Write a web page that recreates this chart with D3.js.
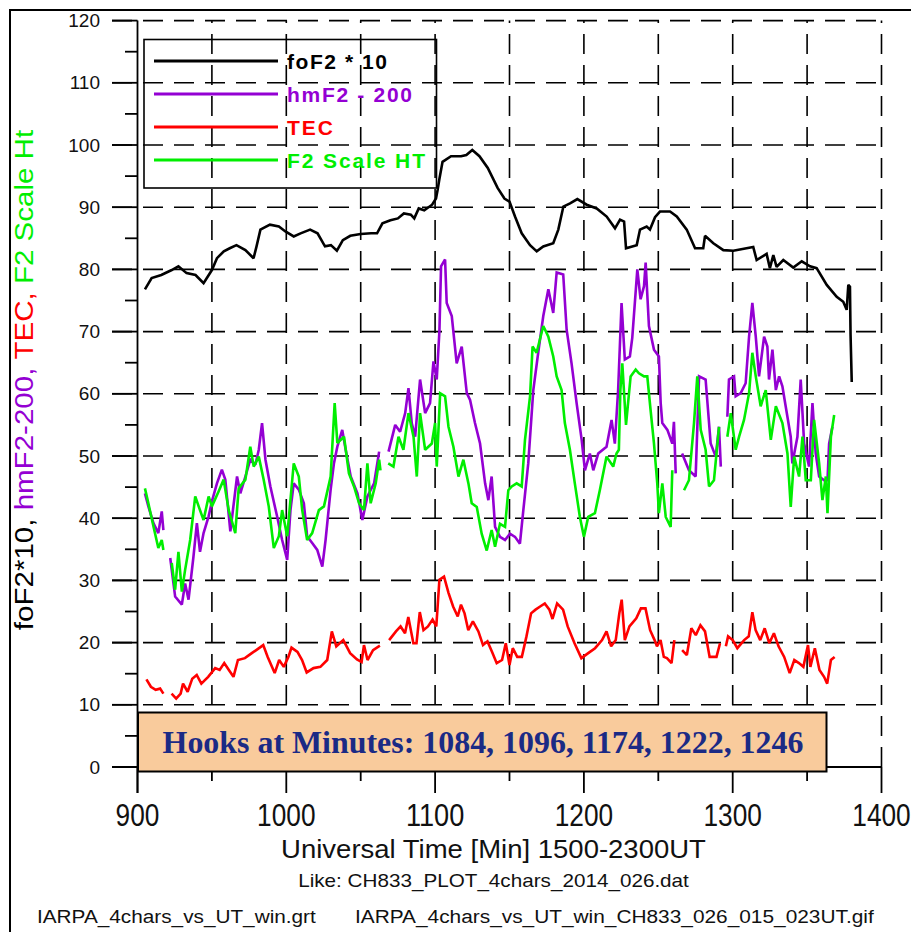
<!DOCTYPE html>
<html>
<head>
<meta charset="utf-8">
<script src="https://cdn.jsdelivr.net/npm/d3@7"></script>
<style>
  html, body { margin: 0; padding: 0; background: #fff; }
  svg { display: block; }
</style>
</head>
<body>
<svg id="chart" width="911" height="932" style="font-family: 'Liberation Sans', Arial, sans-serif;"></svg>
<script>
// ---- data (minutes UT, plotted value); null marks a data gap ----
const foF2Time = [905,909.5,916,923,927.5,933,939,944.4,950,953.4,958,962,966.5,972.5,978,980,982.6,989,995,999.4,1005,1009.6,1016,1021,1026,1030,1034,1038,1043,1050,1057,1061,1064.6,1070,1075,1079,1083.7,1086,1089,1092.7,1098,1100.6,1101.7,1102.8,1105,1110.7,1117.4,1121,1125,1129.8,1135.4,1142,1146.6,1150,1153.7,1158.2,1163.8,1168.3,1172.7,1179.4,1182.8,1186.2,1190.7,1195.6,1201.9,1208.6,1215.3,1220.9,1224.3,1227,1228.3,1235.5,1237.7,1242.2,1244.4,1247.8,1251.1,1257.9,1262.4,1269.1,1274.7,1280.2,1281.4,1287,1293.7,1300.4,1313.8,1316.1,1322.8,1325,1327.3,1329.5,1334,1340.7,1346.4,1352,1356.4,1363.2,1369.9,1374.3,1376.6,1377.7,1378.8,1379.2,1380];
const foF2Values = [76.8,78.6,79.1,79.9,80.5,79.4,79.1,77.8,79.9,81.8,82.9,83.4,83.9,83.1,81.8,83.7,86.4,87.2,86.9,86.1,85.3,85.8,86.4,85.8,83.7,83.9,83.0,84.7,85.4,85.7,85.8,85.8,87.4,87.9,88.2,89.0,88.8,88.2,89.8,89.5,90.4,91.4,92.8,94.4,97.3,98.2,98.2,98.4,99.2,98.2,96.3,93.1,91.4,90.9,88.5,85.8,83.9,82.9,83.7,84.2,86.4,90.1,90.6,91.3,90.4,89.8,88.5,86.6,88.0,87.7,83.4,83.9,86.4,86.9,86.4,88.4,89.3,89.3,88.5,86.4,83.4,83.4,85.4,84.2,83.1,83.0,83.6,81.5,82.5,80.2,82.3,80.4,81.5,80.3,81.3,80.5,80.2,77.5,75.6,74.8,73.5,77.5,77.2,69.5,61.9];

const hmF2Time = [905,907.3,910.7,914,916.3,917.4,919,922,925.3,929.8,932,934.3,937.6,939.9,942,944.4,947.8,950,953.4,956.7,959,962.4,966.9,969.1,972.5,975.8,979.2,981.5,983.7,986,989.3,993.8,997.2,1000.6,1002.8,1005,1008.4,1011.8,1014,1017.4,1020.8,1024.2,1026.4,1029.8,1032,1034.3,1037.6,1039.9,1043.3,1047.8,1051.1,1054.5,1059,1062.4,1065,1068.7,1073.2,1076.5,1079.9,1082.1,1084.3,1086.6,1089.9,1093.3,1096.6,1098.9,1101.1,1102.9,1104,1106.7,1107.8,1111.2,1114.5,1117.9,1121.3,1123.5,1126.8,1130.2,1133.6,1135.8,1138,1140.3,1143.6,1147,1150.3,1153.7,1157,1159.3,1162.6,1166,1169.4,1172.7,1176.1,1179.4,1181.7,1186.1,1188.4,1191.7,1195.1,1198.5,1200.7,1204,1206.3,1209.6,1215.2,1218.6,1220.8,1223,1225.3,1227.5,1230.9,1232.5,1235.9,1238.1,1240.4,1241.5,1243.7,1247.1,1250.4,1251.6,1252.7,1256.1,1259.4,1260.5,1261.7,1263,1266,1270.6,1275.1,1277.4,1281.8,1285.2,1288.6,1290.8,1292,1294,1296.4,1297.5,1300.9,1302,1305.4,1308.7,1311,1313.2,1315.5,1317.7,1321.1,1323.3,1324.4,1326.7,1329,1331.2,1333.4,1335.6,1339,1340.1,1343.5,1345.7,1348,1351.3,1353.6,1355.8,1358.1,1361.4,1363.7,1364.8,1367];
const hmF2Values = [44.0,41.9,39.2,37.6,41.1,38.1,null,33.6,27.4,26.1,29.5,26.9,33.8,39.2,34.6,37.6,40.3,42.7,45.6,47.8,46.2,37.9,46.7,44.0,46.7,49.4,48.6,51.0,55.3,49.4,45.1,40.3,36.5,33.3,41.3,45.6,44.6,42.4,37.1,36.0,34.9,32.2,36.5,44.6,48.8,51.5,54.2,51.0,46.7,44.0,39.7,43.5,45.6,50.7,null,50.7,55.0,53.9,56.9,60.9,55.3,53.1,62.3,56.9,58.5,65.2,62.3,70.1,80.5,81.6,74.6,72.5,64.9,67.6,60.1,59.0,55.3,52.0,45.6,42.9,46.7,38.6,37.0,36.5,37.5,37.0,35.9,41.3,48.8,60.6,66.8,72.5,76.8,73.0,79.5,79.2,70.3,64.9,58.5,52.6,47.7,50.4,47.7,50.4,51.5,55.8,52.0,60.6,74.6,65.5,66.0,69.0,80.0,75.2,77.3,81.1,70.9,67.1,66.0,58.5,55.3,54.2,52.0,55.5,47.2,null,50.4,47.7,46.7,62.8,62.3,52.0,49.9,54.7,48.3,null,56.3,62.3,62.8,59.6,60.1,61.7,69.2,74.6,69.2,62.8,69.2,67.6,62.3,67.1,60.6,62.8,61.2,58.0,53.1,48.8,53.1,62.3,52.0,48.3,58.5,50.4,46.7,46.1,46.1,52.0,54.7];

const tecTime = [906,909,912.2,915.2,917.4,920,922.9,926,929,930.6,933.7,936.8,939.8,942.9,947.5,952.2,955.2,958.3,961.4,964.5,967.5,972.2,976.8,979.8,984.5,987.5,992.2,995.2,998.3,1001.4,1003.5,1007.5,1010.6,1013.7,1018.3,1022.9,1027.5,1030.6,1033.6,1038.3,1042.9,1047.5,1050.6,1052.2,1054.6,1058.3,1062.9,1065,1069.1,1073.7,1076.8,1079.8,1082,1085.4,1087.5,1089.7,1092.2,1095.2,1098.3,1100.8,1102.9,1106,1109,1112.1,1115.2,1117.4,1119.8,1122.3,1125.4,1129.1,1132.2,1135.2,1138.3,1141.4,1145,1147.5,1150,1152.2,1155.2,1158.3,1161.4,1164.5,1167.5,1170.6,1173.7,1176.8,1178.9,1182,1186,1189.1,1193.7,1198.3,1202.9,1207.5,1212.2,1215.2,1218.3,1221.4,1223.8,1225.4,1227.5,1230.6,1235.2,1238.3,1241.4,1244.5,1247.5,1249.1,1251.5,1253.7,1255.8,1258.9,1260.8,1263,1266,1269.2,1272.2,1275.2,1278.3,1281.4,1284.5,1289.1,1291.5,1293.5,1295.4,1296.9,1300,1303.1,1307.7,1310.8,1313.2,1315.4,1318.5,1321.5,1324.6,1327.7,1330.8,1334.6,1338.3,1341.4,1344.5,1347.5,1350.6,1352.2,1355.2,1358.3,1361.4,1363.5,1366,1368.5];
const tecValues = [14.1,12.9,12.4,12.6,11.8,null,11.8,11.0,11.8,13.4,12.1,14.2,14.8,13.4,14.5,15.9,15.6,16.7,15.6,14.5,17.2,17.5,18.3,18.8,19.6,17.7,15.1,17.2,16.1,17.7,19.2,18.5,17.2,15.2,15.9,16.1,17.2,21.8,19.4,20.4,18.3,17.3,16.9,19.6,17.2,18.8,19.5,null,20.4,21.8,22.6,21.5,24.1,19.9,19.9,24.9,22.0,22.6,23.7,22.6,30.1,30.6,28.0,25.8,24.2,26.1,24.7,22.0,23.4,21.8,19.6,20.2,18.5,16.7,17.2,19.9,16.4,19.1,17.7,17.7,21.0,24.7,25.3,25.8,26.3,25.3,23.8,26.3,25.3,22.6,19.9,17.5,18.3,19.1,20.4,21.8,19.4,20.4,24.7,26.9,20.4,22.6,23.9,25.5,25.5,22.0,20.4,19.4,20.4,17.7,17.5,16.7,20.4,null,18.8,18.0,22.3,21.2,22.8,21.8,17.7,17.7,19.9,null,19.4,21.0,20.4,19.1,20.4,21.0,24.9,22.0,20.4,22.3,19.9,21.5,19.4,17.7,15.1,17.2,16.7,16.1,19.6,16.1,19.1,15.6,14.5,13.4,17.2,17.7];

const scaleHtTime = [905,907.3,910.7,914,916.3,917.4,919.5,923,925.3,927.5,929.8,932,935.4,938.8,942,944.4,947.8,950,954.5,957.9,961.3,965.7,968,972.5,975.8,978.1,981.5,984.8,988.2,991.6,995,997.2,1000.6,1005,1008.4,1010.7,1014,1017.4,1021.9,1025.3,1029.8,1032.5,1034.3,1038.8,1042.1,1045.5,1048.9,1052.2,1054.5,1056.7,1060.1,1062.4,1063.3,1065.5,1068.5,1072,1075.4,1078.7,1082.1,1085.5,1087.7,1089.9,1093.3,1097.8,1100,1101.1,1103.4,1106.7,1109,1112.3,1115.7,1119,1122.4,1124.6,1128,1131.3,1134.7,1138,1140.3,1143.6,1147,1149.2,1151.5,1154.8,1158.2,1160.4,1163.8,1165.5,1168.2,1172.7,1176.1,1179.4,1181.7,1185,1187.2,1190.6,1193.9,1197.3,1200,1202.9,1207.4,1210.7,1215.2,1219.7,1221.9,1223.5,1224.5,1225.8,1228.3,1231.4,1234.8,1237,1240.4,1242.6,1244.8,1247.1,1249.3,1250.4,1252.7,1255,1258.3,1259.4,1263,1267.3,1270.6,1274,1276.2,1278.5,1281.8,1284.1,1287.4,1290.8,1293.5,1296.4,1298.7,1302,1304.3,1307.6,1311,1313.2,1315.5,1318.8,1322.2,1325.6,1329,1333.4,1336.8,1339,1341.3,1344.6,1346.9,1349.1,1352.5,1354.7,1358.1,1360.3,1362.6,1363.7,1366,1368.2];
const scaleHtValues = [44.8,42.4,38.7,35.2,36.5,34.9,null,32.8,28.5,34.6,28.2,31.7,36.5,43.5,41.3,39.7,43.5,41.9,44.3,46.2,41.3,37.6,44.8,46.2,51.5,48.3,49.9,46.2,41.9,35.2,37.1,41.3,37.1,48.8,46.7,41.3,36.5,37.6,41.3,41.9,46.7,58.5,52.1,53.1,47.2,45.1,42.4,41.3,48.8,42.4,45.6,49.4,47.7,null,48.8,48.3,53.1,51.0,56.9,53.1,46.7,56.9,51.0,52.0,55.3,48.3,60.1,59.6,54.7,51.5,46.7,49.4,45.6,42.4,41.8,37.5,34.8,38.1,35.4,39.1,38.6,44.5,45.1,45.6,45.1,52.6,59.6,67.6,66.6,70.9,69.2,66.0,62.8,60.6,55.3,51.0,45.6,40.2,37.0,40.2,40.8,44.5,49.9,48.3,50.4,51.0,60.6,64.9,55.0,62.8,63.9,63.3,62.8,62.8,57.4,52.0,45.6,40.8,45.6,40.2,38.6,47.7,null,44.5,46.1,55.3,62.8,54.2,51.0,45.1,46.1,54.7,null,53.1,56.9,51.0,53.1,55.8,60.1,66.6,62.8,58.0,60.6,52.6,58.0,55.3,50.4,41.8,49.9,46.7,53.1,46.1,46.1,55.8,48.8,42.9,46.7,40.8,53.1,56.6];

// axes
const xTicks = [900, 1000, 1100, 1200, 1300, 1400];
const xMinorTicks = [950, 1050, 1150, 1250, 1350];
const yTicks = [0, 10, 20, 30, 40, 50, 60, 70, 80, 90, 100, 110, 120];
const yMinorTicks = [5, 15, 25, 35, 45, 55, 65, 75, 85, 95, 105, 115];

const seriesNames = ["foF2 * 10", "hmF2 - 200", "TEC", "F2 Scale HT"];
const seriesColors = ["#000000", "#9400d3", "#ff0000", "#00ee00"];

const hookText = "Hooks at Minutes: 1084, 1096, 1174, 1222, 1246";
const xTitle = "Universal Time [Min] 1500-2300UT";
const subTitle = "Like: CH833_PLOT_4chars_2014_026.dat";
const footLeft = "IARPA_4chars_vs_UT_win.grt";
const footRight = "IARPA_4chars_vs_UT_win_CH833_026_015_023UT.gif";
const yTitleParts = [
  { text: "foF2*10, ", color: "#000000" },
  { text: "hmF2-200, ", color: "#9400d3" },
  { text: "TEC, ", color: "#ff0000" },
  { text: "F2 Scale Ht", color: "#00ee00" }
];

// ---- drawing ----
const svg = d3.select("#chart");
const x = d3.scaleLinear().domain([900, 1400]).range([137.5, 881.5]);
const y = d3.scaleLinear().domain([0, 120]).range([767, 20.6]);

// outer frame (runs off the right and bottom edges)
svg.append("rect").attr("x", 10).attr("y", 10).attr("width", 920).attr("height", 940)
  .attr("fill", "none").attr("stroke", "#000").attr("stroke-width", 2);

// dashed grid
const grid = svg.append("g").attr("stroke", "#000").attr("stroke-width", 1.6)
  .attr("stroke-dasharray", "20,11").attr("fill", "none");
grid.selectAll("line.h").data(yTicks.filter(d => d > 0)).join("line")
  .attr("x1", 112).attr("x2", x(1400)).attr("y1", d => y(d)).attr("y2", d => y(d));
grid.selectAll("line.v").data(xMinorTicks.concat(xTicks.filter(d => d > 900))).join("line")
  .attr("x1", d => x(d)).attr("x2", d => x(d)).attr("y1", y(0)).attr("y2", y(120));

// series lines
function series(times, values) {
  return times.map((t, i) => ({ t, v: values[i] }));
}
const line = d3.line().defined(d => d.v != null).x(d => x(d.t)).y(d => y(d.v));
const data = [
  series(foF2Time, foF2Values),
  series(hmF2Time, hmF2Values),
  series(tecTime, tecValues),
  series(scaleHtTime, scaleHtValues)
];
const drawOrder = [1, 3, 2, 0];
drawOrder.forEach(i => {
  svg.append("path").datum(data[i]).attr("d", line)
    .attr("fill", "none").attr("stroke", seriesColors[i])
    .attr("stroke-width", 2.6).attr("stroke-linejoin", "miter").attr("stroke-miterlimit", 2);
});

// axes (solid)
const ax = svg.append("g").attr("stroke", "#000").attr("stroke-width", 1.8);
ax.append("line").attr("x1", x(900)).attr("x2", x(900)).attr("y1", y(120)).attr("y2", y(0) + 26);
ax.append("line").attr("x1", 112).attr("x2", x(1400)).attr("y1", y(0)).attr("y2", y(0));
ax.selectAll("line.ym").data(yTicks).join("line")
  .attr("x1", 112).attr("x2", x(900)).attr("y1", d => y(d)).attr("y2", d => y(d));
ax.selectAll("line.yn").data(yMinorTicks).join("line")
  .attr("x1", 125).attr("x2", x(900)).attr("y1", d => y(d)).attr("y2", d => y(d));
ax.selectAll("line.xm").data(xTicks).join("line")
  .attr("x1", d => x(d)).attr("x2", d => x(d)).attr("y1", y(0)).attr("y2", y(0) + 26);
ax.selectAll("line.xn").data(xMinorTicks).join("line")
  .attr("x1", d => x(d)).attr("x2", d => x(d)).attr("y1", y(0)).attr("y2", y(0) + 14);

// squeeze or stretch a text horizontally to a given width
function fit(textSel, width) {
  const w = textSel.node().getComputedTextLength();
  return w > 0 ? width / w : 1;
}

// y tick labels
svg.append("g").selectAll("text").data(yTicks).join("text")
  .attr("x", 100).attr("y", d => y(d)).attr("dy", "0.35em")
  .attr("text-anchor", "end").attr("font-size", 19).attr("fill", "#111")
  .text(d => d);

// x tick labels (narrow face)
xTicks.forEach(d => {
  const g = svg.append("g").attr("transform", `translate(${x(d)},826)`);
  const t = g.append("text").attr("text-anchor", "middle").attr("font-size", 31)
    .attr("fill", "#111").text(d);
  const s = fit(t, String(d).length * 14.6);
  t.attr("transform", `scale(${s},1)`);
});

// axis titles and file notes
function placeText(str, cx, cy, size, width, anchor) {
  const g = svg.append("g").attr("transform", `translate(${cx},${cy})`);
  const t = g.append("text").attr("text-anchor", anchor || "middle")
    .attr("font-size", size).attr("fill", "#111").text(str);
  t.attr("transform", `scale(${fit(t, width)},1)`);
  return t;
}
placeText(xTitle, 493.5, 858, 26, 425);
placeText(subTitle, 493.5, 887, 18, 391);
placeText(footLeft, 37, 923, 19, 279, "start");
placeText(footRight, 355, 923, 19, 519, "start");

// y axis title in four colours
{
  const g = svg.append("g").attr("transform", "translate(33,380) rotate(-90)");
  const t = g.append("text").attr("text-anchor", "middle").attr("font-size", 25);
  yTitleParts.forEach(p => t.append("tspan").attr("fill", p.color).text(p.text));
  const w = t.node().getComputedTextLength();
  t.attr("transform", `scale(${500 / w},1)`);
}

// legend
{
  const lg = svg.append("g");
  lg.append("rect").attr("x", 144).attr("y", 39.5).attr("width", 292.5).attr("height", 148.5)
    .attr("fill", "none").attr("stroke", "#000").attr("stroke-width", 1.6);
  const rowY = [61, 94, 127, 160];
  const labelW = [100, 125, 46, 138];
  seriesNames.forEach((name, i) => {
    lg.append("line").attr("x1", 154).attr("x2", 278).attr("y1", rowY[i]).attr("y2", rowY[i])
      .attr("stroke", seriesColors[i]).attr("stroke-width", 3);
    lg.append("text").attr("x", 287).attr("y", rowY[i] + 8)
      .attr("font-size", 21).attr("font-weight", "bold").attr("fill", seriesColors[i])
      .attr("textLength", labelW[i]).attr("lengthAdjust", "spacing")
      .text(name);
  });
}

// annotation box
{
  svg.append("rect").attr("x", 138).attr("y", 712.5).attr("width", 688.5).attr("height", 59)
    .attr("fill", "#f9cb9c").attr("stroke", "#000").attr("stroke-width", 2);
  const g = svg.append("g").attr("transform", "translate(483,753)");
  const t = g.append("text").attr("text-anchor", "middle")
    .style("font-family", "'Liberation Serif', 'Times New Roman', serif")
    .attr("font-weight", "bold").attr("font-size", 31).attr("fill", "#1b2a85")
    .text(hookText);
  t.attr("transform", `scale(${fit(t, 641)},1)`);
}
</script>
</body>
</html>
